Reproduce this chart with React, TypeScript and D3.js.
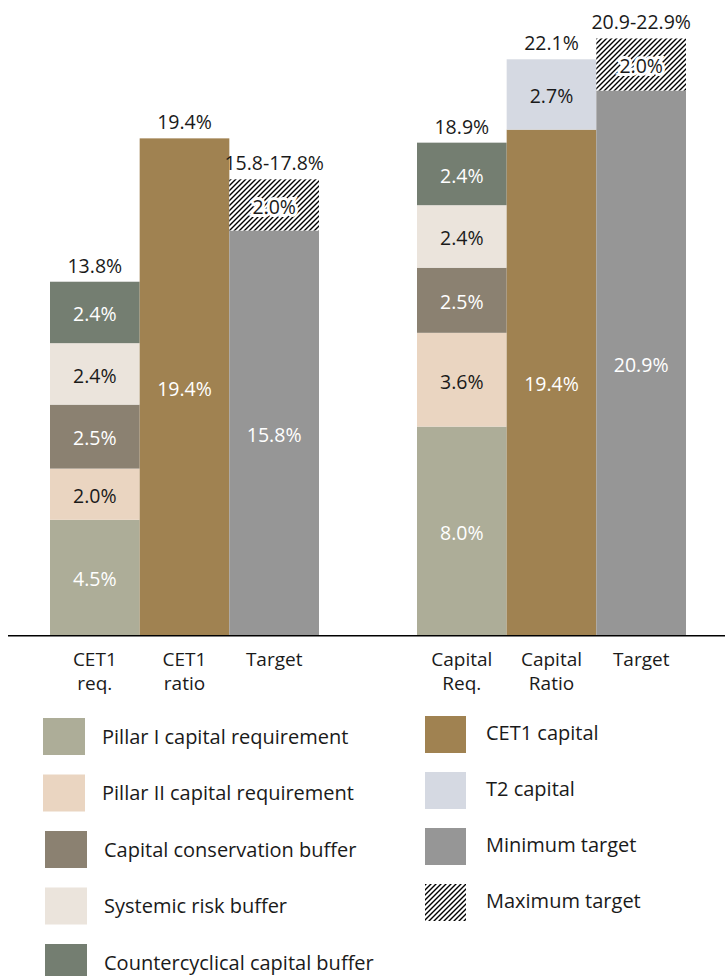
import React from 'react'
import * as d3 from 'd3'

// requirement components (bottom to top)
const reqNames = [
  'Pillar I capital requirement',
  'Pillar II capital requirement',
  'Capital conservation buffer',
  'Systemic risk buffer',
  'Countercyclical capital buffer',
]
const reqColors = ['#adad98', '#ead5c1', '#8b8171', '#ebe4dc', '#747e71']
const reqText = ['#ffffff', '#1a1a1a', '#ffffff', '#1a1a1a', '#ffffff']
const cet1Req = [4.5, 2.0, 2.5, 2.4, 2.4]
const capitalReq = [8.0, 3.6, 2.5, 2.4, 2.4]

// capital held
const capNames = ['CET1 capital', 'T2 capital', 'Minimum target', 'Maximum target']
const capColors = ['#a08251', '#d5d9e2', '#969696', 'url(#hatch)']
const cet1Ratio = [19.4]
const capitalRatio = [19.4, 2.7]

// targets: minimum and range up to maximum
const cet1Target = [15.8, 2.0]
const capitalTarget = [20.9, 2.0]

const leftCats = [['CET1', 'req.'], ['CET1', 'ratio'], ['Target']]
const rightCats = [['Capital', 'Req.'], ['Capital', 'Ratio'], ['Target']]

const font = "'Open Sans', sans-serif"
const base = 635

type Seg = { y0: number; y1: number; fill: string; text: string; label: string; halo?: boolean }

function stackUp(vals: number[], fills: string[], texts: string[]): Seg[] {
  let acc = 0
  return vals.map((v, i) => {
    const s = { y0: acc, y1: acc + v, fill: fills[i], text: texts[i], label: v.toFixed(1) + '%' }
    acc += v
    return s
  })
}

function Panel({ range, pxPer, cats, req, ratio, target }: any) {
  const x = d3.scaleBand().domain(['a', 'b', 'c']).range(range).padding(0)
  const y = d3.scaleLinear().domain([0, 1]).range([base, base - pxPer])
  const cols: { key: string; segs: Seg[]; top: string }[] = [
    {
      key: 'a',
      segs: stackUp(req, reqColors, reqText),
      top: d3.sum(req).toFixed(1) + '%',
    },
    {
      key: 'b',
      segs: stackUp(ratio, capColors, ['#ffffff', '#1a1a1a']),
      top: d3.sum(ratio).toFixed(1) + '%',
    },
    {
      key: 'c',
      segs: stackUp(target, [capColors[2], capColors[3]], ['#ffffff', '#1a1a1a']).map((s, i) =>
        i === 1 ? { ...s, halo: true } : s
      ),
      top: target[0].toFixed(1) + '-' + d3.sum(target).toFixed(1) + '%',
    },
  ]
  const bw = x.bandwidth()
  return (
    <g>
      {cols.map((c) => {
        const x0 = x(c.key) as number
        const total = c.segs[c.segs.length - 1].y1
        return (
          <g key={c.key}>
            {c.segs.map((s, i) => (
              <rect key={i} x={x0} y={y(s.y1)} width={bw} height={y(s.y0) - y(s.y1)} fill={s.fill} />
            ))}
            {c.segs.map((s, i) => (
              <text
                key={'t' + i}
                x={x0 + bw / 2}
                y={(y(s.y0) + y(s.y1)) / 2 + 2}
                dy="0.35em"
                textAnchor="middle"
                fontSize={19.5}
                fill={s.text}
                stroke={s.halo ? '#ffffff' : 'none'}
                strokeWidth={s.halo ? 6 : 0}
                paintOrder="stroke"
              >
                {s.label}
              </text>
            ))}
            <text x={x0 + bw / 2} y={y(total) - 9} textAnchor="middle" fontSize={19.5} fill="#1a1a1a">
              {c.top}
            </text>
          </g>
        )
      })}
      {cats.map((lines: string[], i: number) => (
        <text key={'c' + i} textAnchor="middle" fontSize={19} fill="#1a1a1a">
          {lines.map((l, j) => (
            <tspan key={j} x={(x(['a', 'b', 'c'][i]) as number) + bw / 2} y={666 + j * 24}>
              {l}
            </tspan>
          ))}
        </text>
      ))}
    </g>
  )
}

export default function App() {
  const leftRow = d3.scaleLinear().domain([0, 4]).range([718, 944])
  const rightRow = d3.scaleLinear().domain([0, 3]).range([716, 884])
  return (
    <svg
      width={725}
      height={976}
      style={{ position: 'absolute', left: 0, top: 0, fontFamily: font }}
    >
      <defs>
        <pattern id="hatch" width={5} height={5} patternUnits="userSpaceOnUse">
          <rect width={5} height={5} fill="#ffffff" />
          <path d="M-1,1 l2,-2 M0,5 l5,-5 M4,6 l2,-2" stroke="#000000" strokeWidth={1.4} />
        </pattern>
      </defs>
      <rect width={725} height={976} fill="#ffffff" />
      <Panel range={[50, 319]} pxPer={25.6} cats={leftCats} req={cet1Req} ratio={cet1Ratio} target={cet1Target} />
      <Panel
        range={[417, 686]}
        pxPer={26.05}
        cats={rightCats}
        req={capitalReq}
        ratio={capitalRatio}
        target={capitalTarget}
      />
      <line x1={8} x2={725} y1={base + 0.75} y2={base + 0.75} stroke="#000000" strokeWidth={1.5} />

      {/* legend */}
      {reqNames.map((n, i) => (
        <g key={n}>
          <rect x={i < 2 ? 43 : 45} y={leftRow(i)} width={42} height={37} fill={reqColors[i]} />
          <text x={i < 2 ? 102 : 104} y={leftRow(i) + 18.5} dy="0.35em" fontSize={20} fill="#1a1a1a">
            {n}
          </text>
        </g>
      ))}
      {capNames.map((n, i) => (
        <g key={n}>
          <rect x={425} y={rightRow(i)} width={41} height={37} fill={capColors[i]} />
          <text x={486} y={rightRow(i) + 17} dy="0.35em" fontSize={20} fill="#1a1a1a">
            {n}
          </text>
        </g>
      ))}
    </svg>
  )
}
